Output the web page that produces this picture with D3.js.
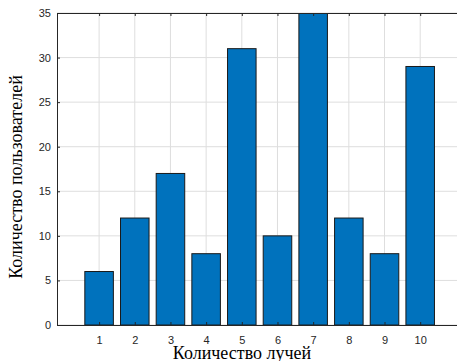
<!DOCTYPE html>
<html>
<head>
<meta charset="utf-8">
<script src="https://cdn.jsdelivr.net/npm/d3@7"></script>
<style>
  body { margin: 0; background: #fff; }
  svg { display: block; }
</style>
</head>
<body>
<div id="chart"></div>
<script>
// chart data
const categories = [1, 2, 3, 4, 5, 6, 7, 8, 9, 10];
const users = [6, 12, 17, 8, 31, 10, 35, 12, 8, 29];
const yTicks = [0, 5, 10, 15, 20, 25, 30, 35];

const width = 457, height = 361;
const margin = {left: 57, top: 13};
const plotRight = 463, plotBottom = 325;

const svg = d3.select('#chart')
    .append('svg')
        .attr('width', width)
        .attr('height', height);

// scales (MATLAB style, x limits a bit wider than the bars)
const x = d3.scaleLinear()
    .domain([-0.18, 11.2])
    .range([margin.left, plotRight]);

const y = d3.scaleLinear()
    .domain([0, 35])
    .range([plotBottom, margin.top]);

svg.append('clipPath').attr('id', 'plotclip')
    .append('rect')
        .attr('x', margin.left)
        .attr('y', margin.top)
        .attr('width', plotRight - margin.left)
        .attr('height', plotBottom - margin.top);

// grid
const grid = svg.append('g').attr('class', 'grid');
grid.selectAll('line.gx')
    .data(categories)
    .enter().append('line')
        .attr('class', 'gx')
        .attr('x1', d => x(d)).attr('x2', d => x(d))
        .attr('y1', margin.top).attr('y2', plotBottom)
        .attr('stroke', '#dedede').attr('stroke-width', 1);
grid.selectAll('line.gy')
    .data(yTicks)
    .enter().append('line')
        .attr('class', 'gy')
        .attr('x1', margin.left).attr('x2', plotRight)
        .attr('y1', d => y(d)).attr('y2', d => y(d))
        .attr('stroke', '#dedede').attr('stroke-width', 1);

// bars
const barW = (x(1) - x(0)) * 0.8;
svg.append('g')
    .attr('clip-path', 'url(#plotclip)')
    .selectAll('rect.bar')
    .data(users)
    .enter().append('rect')
        .attr('class', 'bar')
        .attr('x', (d, i) => x(categories[i]) - barW / 2)
        .attr('y', d => y(d))
        .attr('width', barW)
        .attr('height', d => y(0) - y(d))
        .attr('fill', '#0072bd')
        .attr('stroke', '#1a1a1a')
        .attr('stroke-width', 1);

// axes
const axisColor = '#262626';
const xAxis = svg.append('g')
    .attr('transform', `translate(0,${plotBottom})`)
    .call(d3.axisBottom(x).tickValues(categories).tickSizeInner(-3).tickSizeOuter(0).tickPadding(11));

const xTop = svg.append('g')
    .attr('transform', `translate(0,${margin.top})`)
    .call(d3.axisTop(x).tickValues(categories).tickSizeInner(-3).tickSizeOuter(0).tickFormat(''));

const yAxis = svg.append('g')
    .attr('transform', `translate(${margin.left},0)`)
    .call(d3.axisLeft(y).tickValues(yTicks).tickSizeInner(-3).tickSizeOuter(0).tickPadding(6));

[xAxis, xTop, yAxis].forEach(a => {
    a.select('.domain').attr('stroke', axisColor).attr('stroke-width', 1);
    a.selectAll('.tick line').attr('stroke', axisColor);
    a.selectAll('.tick text')
        .attr('fill', axisColor)
        .style('font-family', '"Liberation Sans", Arial, sans-serif')
        .style('font-size', '11px');
});

// axis titles
svg.append('text')
    .attr('x', 242)
    .attr('y', 359)
    .attr('text-anchor', 'middle')
    .style('font-family', '"Liberation Serif", "Times New Roman", serif')
    .style('font-size', '18px')
    .attr('fill', '#000')
    .text('Количество лучей');

svg.append('text')
    .attr('transform', 'translate(22,177) rotate(-90)')
    .attr('text-anchor', 'middle')
    .style('font-family', '"Liberation Serif", "Times New Roman", serif')
    .style('font-size', '18px')
    .attr('fill', '#000')
    .text('Количество пользователей');
</script>
</body>
</html>
